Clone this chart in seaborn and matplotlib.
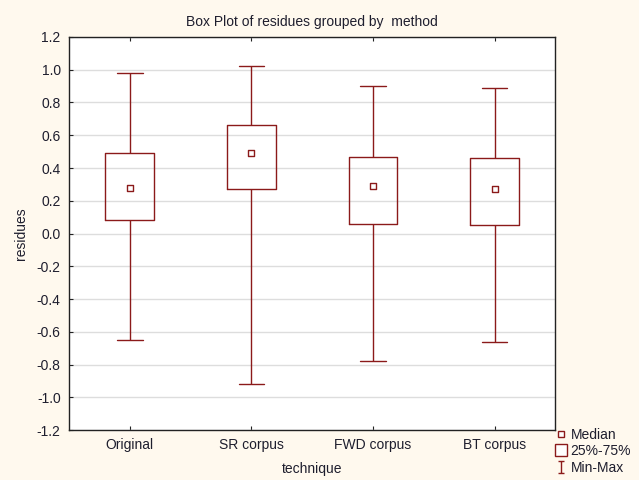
import numpy as np
import pandas as pd
import matplotlib
matplotlib.use("Agg")
import matplotlib.pyplot as plt
import seaborn as sns
from matplotlib.lines import Line2D
from matplotlib.path import Path

categories = ["Original", "SR corpus", "FWD corpus", "BT corpus"]
mins = [-0.65, -0.92, -0.78, -0.66]
q1s = [0.08, 0.27, 0.06, 0.05]
medians = [0.28, 0.49, 0.29, 0.27]
q3s = [0.49, 0.66, 0.47, 0.46]
maxs = [0.98, 1.02, 0.90, 0.89]
yticks = [-1.2, -1.0, -0.8, -0.6, -0.4, -0.2, 0.0, 0.2, 0.4, 0.6, 0.8, 1.0, 1.2]

rows = []
for c, a, b, m, d, e in zip(categories, mins, q1s, medians, q3s, maxs):
    for v in (a, b, m, d, e):
        rows.append({"technique": c, "residues": v})
df = pd.DataFrame(rows)
med_df = pd.DataFrame({"technique": categories, "residues": medians})

sns.set_theme(style="white")
plt.rcParams["font.family"] = ["Liberation Sans", "DejaVu Sans"]

RED = "#8B1A1A"
BG = "#FFF9EE"
TXT = "#1E1E2E"
FS = 10

fig = plt.figure(figsize=(6.39, 4.80), dpi=100, facecolor=BG)
ax = fig.add_axes([0.108, 0.104, 0.761, 0.819])
ax.set_facecolor("white")

sns.boxplot(data=df, x="technique", y="residues", order=categories, whis=(0, 100),
            width=0.4, ax=ax, fill=False, color=RED, linewidth=1.0,
            showcaps=True, showfliers=False,
            boxprops=dict(color=RED, linewidth=1.0),
            whiskerprops=dict(color=RED, linewidth=1.0),
            capprops=dict(color=RED, linewidth=1.0),
            medianprops=dict(linewidth=0, alpha=0))
sns.stripplot(data=med_df, x="technique", y="residues", order=categories, jitter=False,
              marker="s", size=5, color="white", edgecolor=RED, linewidth=1.0, ax=ax, zorder=5)

# caps narrower
for ln in ax.lines:
    xd = np.asarray(ln.get_xdata(), dtype=float)
    yd = np.asarray(ln.get_ydata(), dtype=float)
    if len(xd) == 2 and yd[0] == yd[1] and abs(xd[1] - xd[0]) > 0.01:
        cx = (xd[0] + xd[1]) / 2
        ln.set_xdata([cx - 0.105, cx + 0.105])

ax.set_ylim(-1.2, 1.2)
ax.set_xlim(-0.5, 3.5)
ax.set_yticks(yticks)
ax.set_yticklabels([f"{t:.1f}" for t in yticks], fontsize=FS, color=TXT)
ax.tick_params(axis="x", labelsize=FS, labelcolor=TXT)
ax.yaxis.grid(True, color="#DDDDDD", linewidth=1.0)
ax.set_axisbelow(True)
ax.tick_params(axis="both", direction="in", length=3, color="#222222", width=0.8,
               top=True, bottom=True, left=True, right=False, pad=6)
for s in ax.spines.values():
    s.set_color("#222222")
    s.set_linewidth(1.0)
ax.set_xlabel("technique", fontsize=FS, color=TXT, labelpad=7)
ax.set_ylabel("residues", fontsize=FS, color=TXT, labelpad=6)
ax.set_title("Box Plot of residues grouped by  method", fontsize=FS, color=TXT, pad=8)

minmax = Path([(-0.5, -1), (0.5, -1), (0, -1), (0, 1), (-0.5, 1), (0.5, 1)],
              [Path.MOVETO, Path.LINETO, Path.MOVETO, Path.LINETO, Path.MOVETO, Path.LINETO])
handles = [
    Line2D([], [], linestyle="none", marker="s", markersize=4.0, markerfacecolor="white",
           markeredgecolor=RED, markeredgewidth=1.0),
    Line2D([], [], linestyle="none", marker="s", markersize=9, markerfacecolor="white",
           markeredgecolor=RED, markeredgewidth=1.0),
    Line2D([], [], linestyle="none", marker=minmax, markersize=9, markerfacecolor="none",
           markeredgecolor=RED, markeredgewidth=1.0),
]
leg = fig.legend(handles, ["Median", "25%-75%", "Min-Max"], loc="lower right",
                 bbox_to_anchor=(1.005, -0.013), frameon=False, fontsize=FS,
                 handlelength=1.0, handletextpad=0.2, labelspacing=0.2, borderpad=0.3)
for t in leg.get_texts():
    t.set_color(TXT)

fig.savefig("out.png", dpi=100, facecolor=BG)
